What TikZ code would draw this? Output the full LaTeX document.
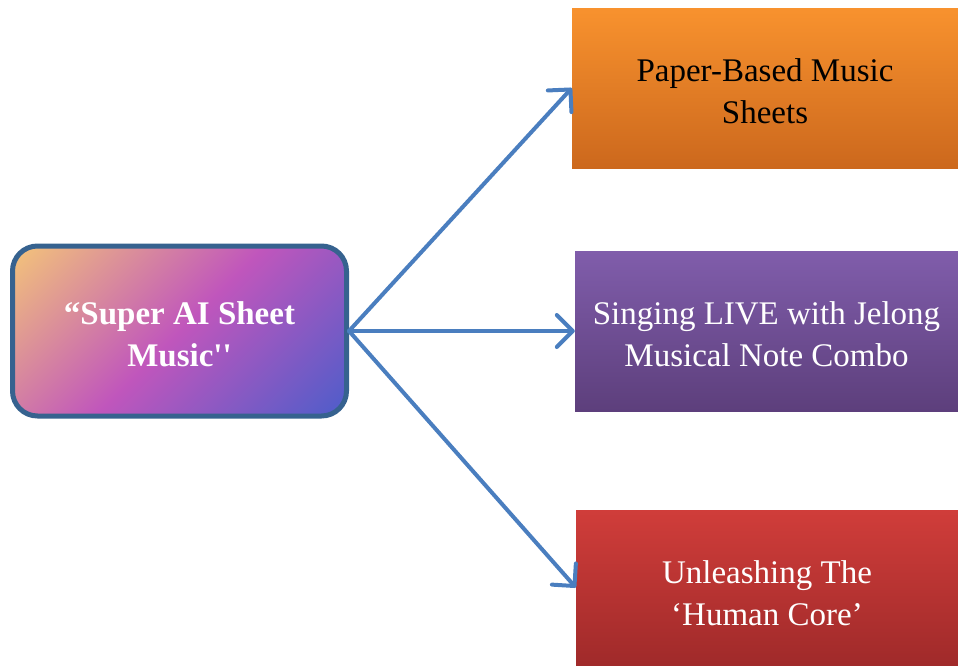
\documentclass[tikz,border=0pt]{standalone}
\usepackage{fontspec}
\setmainfont{Liberation Serif}[Ligatures=TeXOff]
\usetikzlibrary{arrows.meta}
\definecolor{cyel}{HTML}{F3C37A}
\definecolor{cmag}{HTML}{C056BC}
\definecolor{cblu}{HTML}{4E5DCA}
\definecolor{cbord}{HTML}{36628F}
\definecolor{carrow}{HTML}{4A7EBF}
\definecolor{orT}{HTML}{F8922E}
\definecolor{orB}{HTML}{CC681D}
\definecolor{puT}{HTML}{805DAB}
\definecolor{puB}{HTML}{5D3F7C}
\definecolor{reT}{HTML}{D03D3A}
\definecolor{reB}{HTML}{A02A2A}
\pgfdeclarehorizontalshading{centreshade}{100bp}{color(0bp)=(cyel); color(15bp)=(cyel); color(50bp)=(cmag); color(85bp)=(cblu); color(100bp)=(cblu)}
\tikzset{
  txt/.style={align=center, font=\fontsize{33}{42}\selectfont, inner sep=0pt},
  rightbox/.style={rectangle, minimum height=160pt, inner sep=0pt},
  centrebox/.style={rounded corners=25pt, draw=cbord, line width=5pt,
     shading=centreshade, shading angle=-45,
     minimum width=334pt, minimum height=170pt, inner sep=0pt},
  conn/.style={draw=carrow, line width=4pt, line cap=round, line join=round,
     -{Straight Barb[length=16pt, width=32pt, line cap=round, line join=round]}}
}
\begin{document}
\begin{tikzpicture}[x=1pt, y=-1pt]
\useasboundingbox (0,0) rectangle (958,665);
\node[centrebox, label={[txt, text=white, font=\fontsize{33}{42}\selectfont\bfseries, yshift=-3pt]center:{“Super AI Sheet\\Music''}}] (c) at (179.5,331) {};
\node[rightbox, minimum width=386pt, top color=orT, bottom color=orB,
  label={[txt, text=black, yshift=-3.5pt]center:{Paper-Based Music\\Sheets}}] (p) at (765,88) {};
\node[rightbox, minimum width=383pt, top color=puT, bottom color=puB,
  label={[txt, text=white, yshift=-3.5pt]center:{Singing LIVE with Jelong\\Musical Note Combo}}] (s) at (766.5,331) {};
\node[rightbox, minimum width=382pt, minimum height=155pt, top color=reT, bottom color=reB,
  label={[txt, text=white, yshift=-6pt]center:{Unleashing The\\‘Human Core’}}] (h) at (767,587.5) {};
\draw[conn] (c.east) -- (p.west);
\draw[conn] (c.east) -- (s.west);
\draw[conn] (c.east) -- (h.west);
\end{tikzpicture}
\end{document}
